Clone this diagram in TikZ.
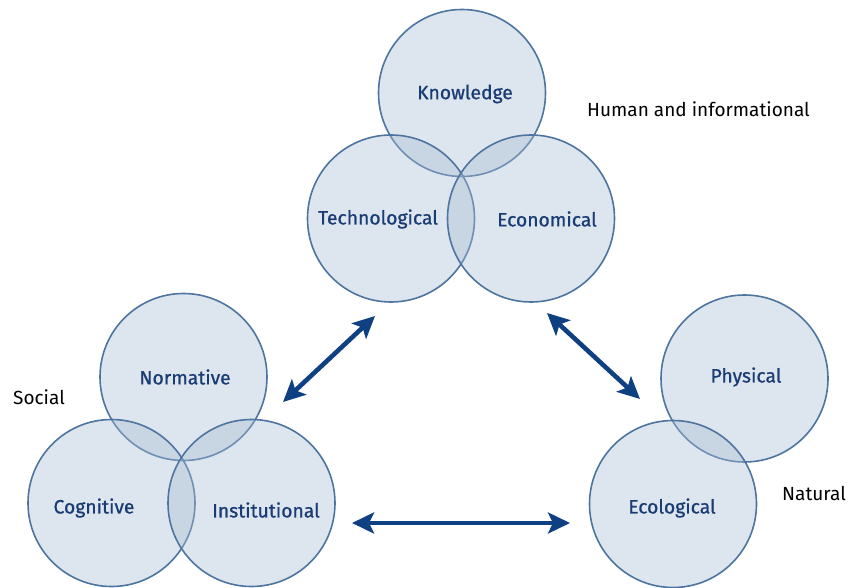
\documentclass[tikz,border=0pt]{standalone}
\usepackage{fontspec}
\setmainfont{Fira Sans}
\newfontfamily\labfont[FakeBold=0.9]{Fira Sans}
\usetikzlibrary{arrows.meta}
\definecolor{circfill}{RGB}{166,187,210}
\definecolor{circline}{RGB}{78,116,160}
\definecolor{labblue}{RGB}{26,60,116}
\definecolor{arrblue}{RGB}{14,64,130}
\tikzset{
  ring/.style={circle, minimum size=167pt, inner sep=0pt, draw=circline, line width=1.6pt, fill=circfill, fill opacity=0.38},
  lab/.style={text=labblue, font=\labfont\fontsize{19.3}{22}\selectfont, inner sep=0pt},
  grp/.style={text=black, font=\fontsize{19}{22}\selectfont, inner sep=0pt},
  dbl/.style={draw=arrblue, line width=4.6pt, {Stealth[length=22pt,width=21pt,inset=5pt]}-{Stealth[length=22pt,width=21pt,inset=5pt]}}
}
\begin{document}
\begin{tikzpicture}[x=1pt,y=-1pt]
\useasboundingbox (0,0) rectangle (849,588);
% top group
\node[ring] (know) at (462,93) {};
\node[ring] (tech) at (391,218.5) {};
\node[ring] (econ) at (531,218.5) {};
% social group
\node[ring] (norm) at (183.5,377) {};
\node[ring] (cogn) at (111.5,503) {};
\node[ring] (inst) at (251.5,503) {};
% natural group
\node[ring] (phys) at (744.5,378.5) {};
\node[ring] (ecol) at (673,504) {};
% labels
\node[lab] (tknow) at (465,94) {Knowledge};
\node[lab] (ttech) at (378,219) {Technological};
\node[lab] (tecon) at (547,219) {Economical};
\node[lab] (tnorm) at (185,377) {Normative};
\node[lab] (tcogn) at (94,508) {Cognitive};
\node[lab] (tinst) at (266,510) {Institutional};
\node[lab] (tphys) at (746,377) {Physical};
\node[lab] (tecol) at (672,508) {Ecological};
\node[grp, anchor=west] (human) at (587,109) {Human and informational};
\node[grp, anchor=west] (social) at (13,397) {Social};
\node[grp, anchor=west] (natural) at (782,493) {Natural};
% arrows
\coordinate (a1s) at (283,402);
\coordinate (a1e) at (375,316);
\coordinate (a2s) at (547,313);
\coordinate (a2e) at (640,399);
\coordinate (a3s) at (352,523);
\coordinate (a3e) at (570,523);
\draw[dbl] (a1s) -- (a1e);
\draw[dbl] (a2s) -- (a2e);
\draw[dbl] (a3s) -- (a3e);
\end{tikzpicture}
\end{document}
